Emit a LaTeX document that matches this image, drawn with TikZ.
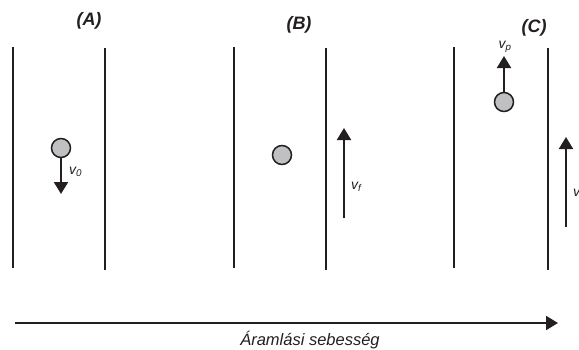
\documentclass[tikz,border=0pt]{standalone}
\usepackage{fontspec}
\setmainfont{Liberation Sans}
\usetikzlibrary{arrows.meta}
\definecolor{ink}{HTML}{231F20}
\definecolor{ballgray}{HTML}{C0C0C2}
\tikzset{
  wall/.style={draw=ink, line width=2.8pt},
  ball/.style={circle, draw=ink, line width=1.5pt, fill=ballgray, minimum size=19pt, inner sep=0pt},
  vel/.style={draw=ink, line width=2pt, -{Triangle[width=14pt,length=12pt]}},
  flow/.style={draw=ink, line width=2pt, -{Triangle[width=14pt,length=12pt]}},
  caselabel/.style={font=\fontsize{18}{20}\selectfont\bfseries\itshape, text=ink},
  vlabel/.style={font=\fontsize{14}{16}\selectfont\itshape, text=ink, inner sep=0pt},
  axislabel/.style={font=\fontsize{16.5}{18}\selectfont\itshape, text=ink, inner sep=0pt}
}
\newcommand{\velsub}[1]{v\textsubscript{#1}}
\begin{document}
\begin{tikzpicture}[x=1pt,y=-1pt]
  \useasboundingbox (0,0) rectangle (579,349);

  % channel walls
  \draw[wall] (13,47) -- (13,268);
  \draw[wall] (105,48) -- (105,270);
  \draw[wall] (234,47) -- (234,268);
  \draw[wall] (326,48) -- (326,270);
  \draw[wall] (454,47) -- (454,268);
  \draw[wall] (548,48) -- (548,270);

  % case labels
  \node[caselabel] (labA) at (89,21) {(A)};
  \node[caselabel] (labB) at (299,25) {(B)};
  \node[caselabel] (labC) at (534,28) {(C)};

  % (A) particle sinking with v0
  \node[ball] (ballA) at (61,148) {};
  \coordinate (tipA) at (61,194);
  \draw[vel] (ballA.south) -- (tipA);
  \node[vlabel, anchor=west] (vA) at (69,172) {\velsub{0}};

  % (B) particle held by the fluid velocity vf
  \node[ball] (ballB) at (282,155) {};
  \coordinate (fB0) at (344,218);
  \coordinate (fB1) at (344,128);
  \draw[vel] (fB0) -- (fB1);
  \node[vlabel, anchor=west] (vB) at (351,187) {\velsub{f}};

  % (C) particle carried upward with vp
  \node[ball] (ballC) at (504,102) {};
  \coordinate (tipC) at (504,56);
  \draw[vel] (ballC.north) -- (tipC);
  \node[vlabel, anchor=south] (vC) at (505,53) {\velsub{p}};
  \coordinate (fC0) at (566,227);
  \coordinate (fC1) at (566,137);
  \draw[vel] (fC0) -- (fC1);
  \node[vlabel, anchor=west] (vCf) at (573,194) {\velsub{f}};

  % flow velocity axis
  \coordinate (ax0) at (15,323);
  \coordinate (ax1) at (558,323);
  \draw[flow] (ax0) -- (ax1);
  \node[axislabel] (axlab) at (310,340) {Áramlási sebesség};
\end{tikzpicture}
\end{document}
